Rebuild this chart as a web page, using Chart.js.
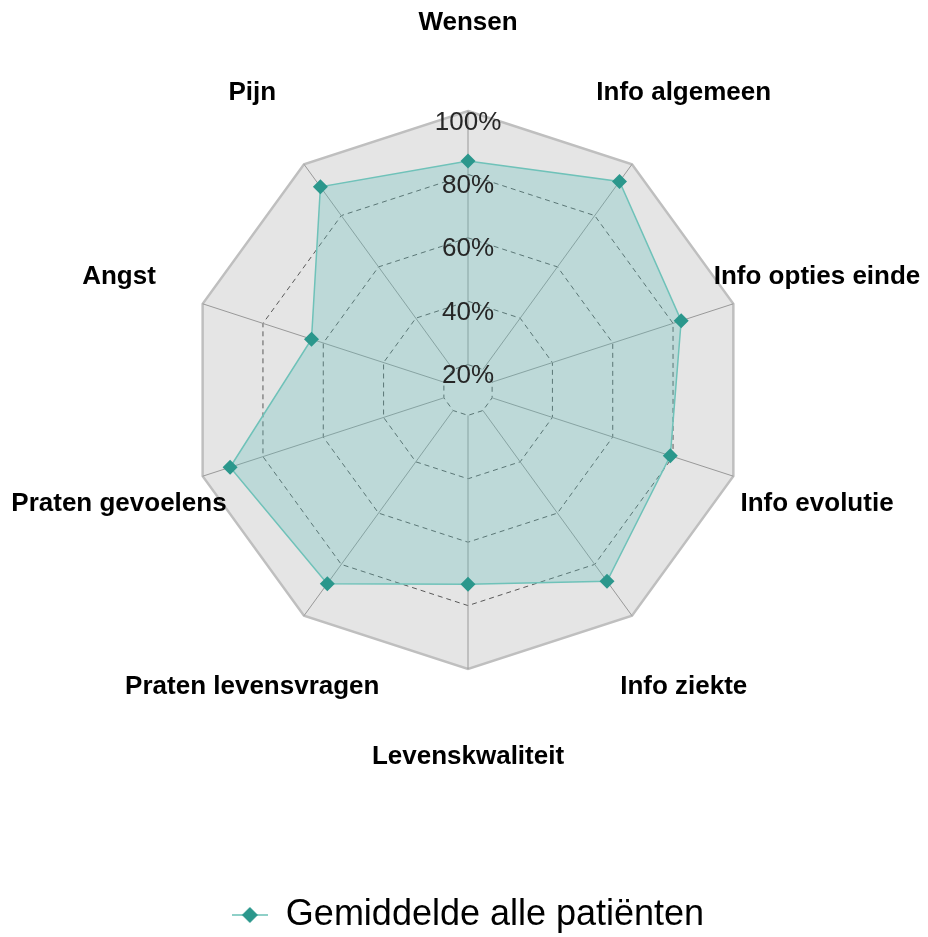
<!DOCTYPE html>
<html>
<head>
<meta charset="utf-8">
<title>Gemiddelde alle patiënten</title>
<script src="https://cdn.jsdelivr.net/npm/chart.js@4.4.1/dist/chart.umd.min.js"></script>
<style>
  html, body { margin: 0; padding: 0; background: #fff; }
  canvas { display: block; }
</style>
</head>
<body>
<canvas id="radar" width="928" height="937"></canvas>
<script>
// data
const categories = ['Wensen', 'Info algemeen', 'Info opties einde', 'Info evolutie', 'Info ziekte',
    'Levenskwaliteit', 'Praten levensvragen', 'Praten gevoelens', 'Angst', 'Pijn'];
const averages = [84.2, 93.3, 82.7, 79.1, 86.6, 73.3, 87.5, 90.9, 63.9, 91.2];
const tickValues = [20, 40, 60, 80, 100];
const axisMin = 12;
const seriesName = 'Gemiddelde alle patiënten';

const FONT = "'Liberation Sans', Arial, sans-serif";
Chart.defaults.font.family = FONT;

// legend marker: line with a diamond, like the original
function makeMarker() {
    const c = document.createElement('canvas');
    c.width = 36;
    c.height = 18;
    const g = c.getContext('2d');
    g.strokeStyle = '#8fd0c8';
    g.lineWidth = 2;
    g.beginPath();
    g.moveTo(0, 9);
    g.lineTo(36, 9);
    g.stroke();
    g.fillStyle = '#2b978c';
    g.beginPath();
    g.moveTo(18, 1);
    g.lineTo(26, 9);
    g.lineTo(18, 17);
    g.lineTo(10, 9);
    g.closePath();
    g.fill();
    return c;
}
const marker = makeMarker();

// grey plot area inside the outer ring
const plotBackground = {
    id: 'plotBackground',
    beforeDraw(chart) {
        const r = chart.scales.r;
        const ctx = chart.ctx;
        ctx.save();
        ctx.fillStyle = '#e5e5e5';
        ctx.beginPath();
        chart.data.labels.forEach((_, i) => {
            const p = r.getPointPositionForValue(i, r.max);
            if (i === 0) ctx.moveTo(p.x, p.y);
            else ctx.lineTo(p.x, p.y);
        });
        ctx.closePath();
        ctx.fill();
        ctx.restore();
    }
};

// category labels centred on each spoke
const spokeLabels = {
    id: 'spokeLabels',
    afterDraw(chart) {
        const r = chart.scales.r;
        const ctx = chart.ctx;
        ctx.save();
        ctx.font = 'bold 26px ' + FONT;
        ctx.fillStyle = '#000';
        ctx.textAlign = 'center';
        ctx.textBaseline = 'middle';
        chart.data.labels.forEach((label, i) => {
            const p = r.getPointPosition(i, r.drawingArea + 88);
            ctx.fillText(label, p.x, p.y);
        });
        ctx.restore();
    }
};

const isOuter = (ctx) => ctx.tick && ctx.tick.value === tickValues[tickValues.length - 1];

new Chart(document.getElementById('radar'), {
    type: 'radar',
    data: {
        labels: categories,
        datasets: [{
            label: seriesName,
            data: averages,
            borderColor: '#6fc2b9',
            borderWidth: 1.5,
            backgroundColor: 'rgba(95, 190, 185, 0.3)',
            fill: true,
            pointStyle: 'rectRot',
            pointRadius: 7.5,
            pointBorderWidth: 0,
            pointBackgroundColor: '#2b978c',
            pointBorderColor: '#2b978c'
        }]
    },
    options: {
        responsive: false,
        animation: false,
        // the radial scale keeps half a tick-font height free on each side
        layout: { padding: { left: 174, right: 166, top: 0, bottom: -6 } },
        plugins: {
            tooltip: { enabled: false },
            legend: {
                position: 'bottom',
                labels: {
                    font: { size: 36 },
                    color: '#000',
                    padding: 117,
                    usePointStyle: true,
                    pointStyleWidth: 36,
                    generateLabels(chart) {
                        return Chart.defaults.plugins.legend.labels.generateLabels(chart)
                            .map(item => ({ ...item, pointStyle: marker }));
                    }
                }
            }
        },
        scales: {
            r: {
                min: axisMin,
                max: 100,
                afterBuildTicks(scale) {
                    scale.ticks = [axisMin, ...tickValues].map(v => ({ value: v }));
                },
                ticks: {
                    z: 1,
                    showLabelBackdrop: false,
                    color: '#262626',
                    font: { size: 26, lineHeight: '11.5px' },
                    // empty first line pushes the label just below its ring
                    callback: v => ['', v + '%']
                },
                pointLabels: { display: false },
                grid: {
                    color: ctx => isOuter(ctx) ? '#bfbfbf' : '#595959',
                    lineWidth: ctx => isOuter(ctx) ? 2.5 : 1
                },
                border: {
                    dash: ctx => isOuter(ctx) ? [] : [5, 4]
                },
                angleLines: {
                    color: '#999999',
                    lineWidth: 1,
                    // spokes start at the first ring, not at the centre
                    borderDash: ctx => {
                        const s = ctx.chart.scales.r;
                        return [0, s.getDistanceFromCenterForValue(tickValues[0]), s.drawingArea, 0];
                    }
                }
            }
        }
    },
    plugins: [plotBackground, spokeLabels]
});
</script>
</body>
</html>
